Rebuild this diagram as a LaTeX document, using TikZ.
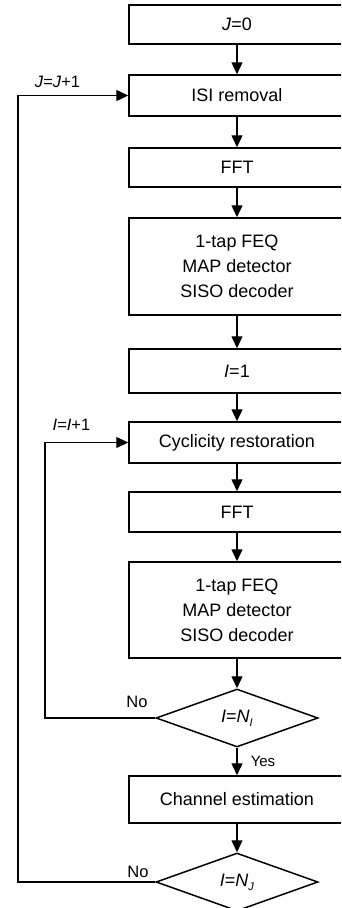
\documentclass[tikz,border=0pt]{standalone}
\usepackage{fontspec}
\setmainfont{Liberation Sans}
\usetikzlibrary{arrows.meta,shapes.geometric}

\begin{document}
\begin{tikzpicture}[x=1pt,y=-1pt,
  procbox/.style={draw,line width=1.5pt,minimum width=216pt,inner sep=0pt,
    align=center,font=\fontsize{18}{25}\selectfont},
  decision/.style={draw,diamond,line width=1.5pt,aspect=2.8,inner sep=0pt,
    minimum width=162pt,minimum height=58pt,font=\fontsize{18}{21}\selectfont},
  flow/.style={line width=1.4pt,-{Triangle[length=12pt,width=11pt]}},
  tag/.style={font=\fontsize{16.5}{19}\selectfont,inner sep=0pt}]
\useasboundingbox (0,0) rectangle (341,908);
\clip (0,0) rectangle (341,908);

% main column of processing steps
\node[procbox,minimum height=39pt] (j0)   at (237,24.5)  {\textit{J}=0};
\node[procbox,minimum height=41pt] (isi)  at (237,95.5)  {ISI removal};
\node[procbox,minimum height=39pt] (fft1) at (237,167.5) {FFT};
\node[procbox,minimum height=97pt] (map1) at (237,266.5) {1-tap FEQ\\MAP detector\\SISO decoder};
\node[procbox,minimum height=44pt] (i1)   at (237,371)   {\textit{I}=1};
\node[procbox,minimum height=41pt] (cyc)  at (237,442.5) {Cyclicity restoration};
\node[procbox,minimum height=40pt] (fft2) at (237,512)   {FFT};
\node[procbox,minimum height=96pt] (map2) at (237,610)   {1-tap FEQ\\MAP detector\\SISO decoder};
\node[decision] (d1) at (237,718) {\textit{I}=\textit{N}\raisebox{-0.4ex}{\fontsize{11}{12}\selectfont\textit{I}}};
\node[procbox,minimum height=47pt] (chan) at (237,799.5) {Channel estimation};
\node[decision] (d2) at (237,882) {\textit{I}=\textit{N}\raisebox{-0.4ex}{\fontsize{11}{12}\selectfont\textit{J}}};

% forward arrows
\draw[flow] (j0.south)   -- (isi.north);
\draw[flow] (isi.south)  -- (fft1.north);
\draw[flow] (fft1.south) -- (map1.north);
\draw[flow] (map1.south) -- (i1.north);
\draw[flow] (i1.south)   -- (cyc.north);
\draw[flow] (cyc.south)  -- (fft2.north);
\draw[flow] (fft2.south) -- (map2.north);
\draw[flow] (map2.south) -- (d1.north);
\draw[flow] (d1.south)   -- (chan.north);
\draw[flow] (chan.south) -- (d2.north);

% feedback loops
\coordinate (outerx) at (18,0);
\coordinate (innerx) at (45,0);
\draw[flow] (d2.west) -- (d2.west -| outerx) |- (isi.west);
\draw[flow] (d1.west) -- (d1.west -| innerx) |- (cyc.west);

% loop labels
\node[tag] (lj) at (57.5,82) {\textit{J}=\textit{J}+1};
\node[tag] (li) at (71.5,425) {\textit{I}=\textit{I}+1};
\node[tag] (no1) at (137,702) {No};
\node[tag] (no2) at (138,872) {No};
\node[tag,font=\fontsize{15}{17}\selectfont] (yes) at (263,761) {Yes};
\end{tikzpicture}
\end{document}
